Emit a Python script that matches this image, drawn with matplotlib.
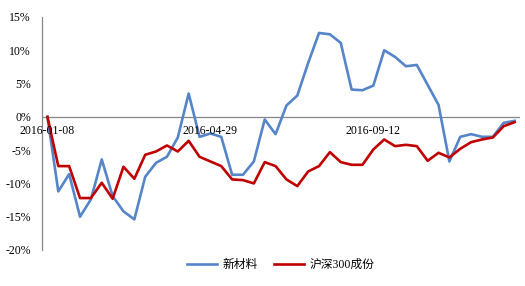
import matplotlib.pyplot as plt
import numpy as np

# %% 数据
tick_idx = [0, 15, 30]
tick_labels = ['2016-01-08', '2016-04-29', '2016-09-12']

new_material = [0, -11.2, -8.6, -15.0, -12.4, -6.4, -11.9, -14.2, -15.4, -9.0,
                -6.9, -6.0, -3.1, 3.5, -3.0, -2.5, -3.0, -8.7, -8.7, -6.7,
                -0.4, -2.6, 1.7, 3.2, 8.1, 12.6, 12.4, 11.1, 4.1, 4.0,
                4.7, 10.0, 9.0, 7.6, 7.8, 4.8, 1.8, -6.7, -3.0, -2.6,
                -3.0, -3.0, -0.9, -0.6]
hs300 = [0, -7.4, -7.4, -12.2, -12.2, -9.9, -12.3, -7.5, -9.3, -5.7,
         -5.2, -4.3, -5.2, -3.6, -6.0, -6.7, -7.4, -9.4, -9.5, -10.0,
         -6.8, -7.4, -9.4, -10.4, -8.2, -7.4, -5.3, -6.8, -7.2, -7.2,
         -4.9, -3.4, -4.4, -4.2, -4.4, -6.6, -5.4, -6.1, -4.8, -3.8,
         -3.4, -3.1, -1.4, -0.8]

# %% 字体
plt.rcParams['font.family'] = ['Liberation Serif', 'Noto Sans CJK SC']
plt.rcParams['font.size'] = 8.5

fig = plt.figure(figsize=(5.25, 2.86), dpi=100)
ax = fig.add_axes([0.08, 0.1259, 0.9105, 0.8147])

x = np.arange(len(new_material))
ax.plot(x, new_material, color='#5585C8', lw=1.9, label='新材料', zorder=3)
ax.plot(x, hs300, color='#C00000', lw=1.9, label='沪深300成份', zorder=3)

ax.set_xlim(-0.5, len(x) - 0.5)
ax.set_ylim(-20, 15)
ax.set_yticks(range(-20, 16, 5))
ax.set_yticklabels([f'{v}%' for v in range(-20, 16, 5)])
ax.tick_params(axis='y', length=0, pad=8)
ax.set_xticks([])

ax.axhline(0, color='#868686', lw=0.9, zorder=2)
for s in ['top', 'right', 'bottom']:
    ax.spines[s].set_visible(False)
ax.spines['left'].set_color('#868686')
ax.spines['left'].set_linewidth(0.9)

# 日期标签放在零线下方
for i, lab in zip(tick_idx, tick_labels):
    ax.annotate(lab, (i, 0), xytext=(0, -6), textcoords='offset points',
                ha='center', va='top', zorder=5, annotation_clip=False)

ax.legend(loc='center', bbox_to_anchor=(0.5, -0.064), ncol=2, frameon=False,
          handlelength=2.5, handletextpad=0.5, columnspacing=1.4)

plt.savefig('out.png', dpi=100)
